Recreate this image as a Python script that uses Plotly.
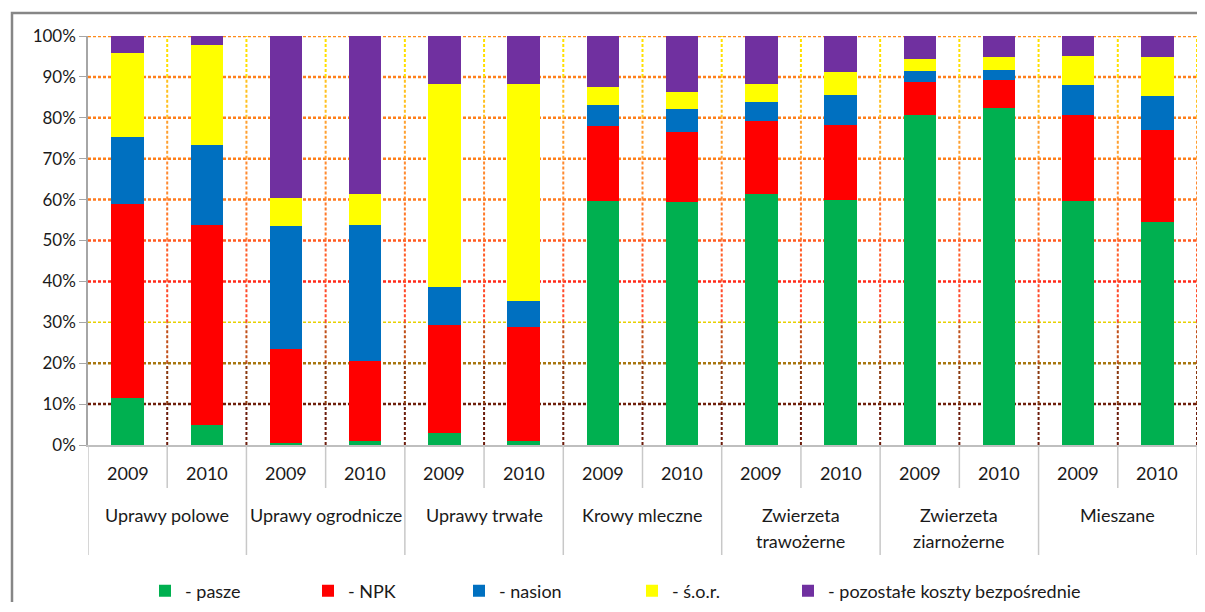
"""Struktura kosztów bezpośrednich - wykres słupkowy 100%."""

import plotly.graph_objects as go

groups = [
    "Uprawy polowe",
    "Uprawy ogrodnicze",
    "Uprawy trwałe",
    "Krowy mleczne",
    "Zwierzeta\ntrawożerne",
    "Zwierzeta\nziarnożerne",
    "Mieszane",
]
years = ["2009", "2010"]

pasze = [11.6, 4.9, 0.4, 1.0, 2.9, 1.0, 59.7, 59.5, 61.4, 60.0, 80.7, 82.5, 59.7, 54.6]
npk = [47.4, 48.9, 23.1, 19.5, 26.4, 27.8, 18.4, 17.1, 17.7, 18.2, 8.1, 6.8, 21.0, 22.5]
nasion = [16.3, 19.5, 30.0, 33.3, 9.3, 6.4, 5.0, 5.6, 4.8, 7.4, 2.6, 2.4, 7.3, 8.2]
sor = [20.5, 24.5, 6.9, 7.6, 49.7, 53.1, 4.4, 4.1, 4.4, 5.6, 3.0, 3.2, 7.1, 9.6]
pozostale = [4.2, 2.2, 39.6, 38.6, 11.7, 11.7, 12.5, 13.7, 11.7, 8.8, 5.6, 5.1, 4.9, 5.1]

series = [
    ("- pasze", pasze, "#00b050"),
    ("- NPK", npk, "#ff0000"),
    ("- nasion", nasion, "#0070c0"),
    ("- ś.o.r.", sor, "#ffff00"),
    ("- pozostałe koszty bezpośrednie", pozostale, "#7030a0"),
]

y_ticks = list(range(0, 101, 10))
y_labels = [f"{v}%" for v in y_ticks]
# dotted gridline colours, 10% .. 100%
hgrid_colors = ["#6e1e0a", "#a8760e", "#e8d000", "#ff2a1a", "#ff5a20",
                "#ff7a1e", "#ff7f1a", "#ff7f1a", "#ff7f1a", "#ff8a1a"]
# vertical gridline gradient, bottom band to top band
vgrid_colors = ["#6b1c0c", "#8a3a10", "#c0501a", "#ff4a2a", "#ff5e2a",
                "#ff7a2a", "#ff8a30", "#ffa030", "#ffc020", "#ffe000"]

FONT = "Lato, 'Open Sans', sans-serif"
TEXT = "#1a1a1a"

# the page body adds 8px around the figure
W, H = 1197, 594
M_L, M_R, M_T = 80, 8, 28
PLOT_H = 409
M_B = H - M_T - PLOT_H

n_bars = len(groups) * len(years)
xs = list(range(n_bars))

# left edge of each legend entry, in figure pixels
legend_x = [137, 300, 451, 624, 780]

fig = go.Figure()
for idx, (name, values, color) in enumerate(series):
    fig.add_trace(
        go.Bar(
            x=xs,
            y=values,
            name=name,
            marker=dict(color=color, line=dict(width=0)),
            legend="legend" if idx == 0 else f"legend{idx + 1}",
        )
    )

shapes = []
# horizontal dotted gridlines
for val, color in zip(y_ticks[1:], hgrid_colors):
    shapes.append(dict(
        type="line", xref="paper", yref="y", x0=0, x1=1, y0=val, y1=val,
        line=dict(color=color, width=1.5 if val == 30 else 2.5, dash="3px,2px"),
        layer="below",
    ))
# vertical dotted gridlines between bars, drawn in colour bands
for i in range(n_bars):
    b = i + 0.5
    for k, color in enumerate(vgrid_colors):
        shapes.append(dict(
            type="line", xref="x", yref="y", x0=b, x1=b,
            y0=y_ticks[k], y1=y_ticks[k + 1],
            line=dict(color=color, width=2, dash="3px,2px"),
            layer="below",
        ))

# category dividers below the axis
short_y = -43 / PLOT_H
long_y = -110 / PLOT_H
for i in range(n_bars + 1):
    b = i - 0.5
    is_group_edge = i % len(years) == 0
    shapes.append(dict(
        type="line", xref="x", yref="paper", x0=b, x1=b,
        y0=0, y1=long_y if is_group_edge else short_y,
        line=dict(color="#c8c8c8", width=1.5),
    ))

# outer chart frame
shapes.append(dict(
    type="rect", xref="paper", yref="paper",
    x0=(4 - M_L) / 1109, x1=1.05, y0=-0.6, y1=1 + (M_T - 5) / PLOT_H,
    line=dict(color="#868686", width=2.5),
))

annotations = []
for i in range(n_bars):
    annotations.append(dict(
        x=i, y=-28 / PLOT_H, xref="x", yref="paper",
        text=years[i % len(years)], showarrow=False,
        yanchor="middle", font=dict(family=FONT, size=18, color=TEXT),
    ))
for g, label in enumerate(groups):
    for line_no, part in enumerate(label.split("\n")):
        annotations.append(dict(
            x=g * len(years) + 0.5, y=-(70 + 26 * line_no) / PLOT_H,
            xref="x", yref="paper", text=part, showarrow=False,
            yanchor="middle", font=dict(family=FONT, size=18, color=TEXT),
        ))

legends = {}
for idx, lx in enumerate(legend_x):
    key = "legend" if idx == 0 else f"legend{idx + 1}"
    legends[key] = dict(
        orientation="h",
        xref="container",
        yref="container",
        x=lx / W,
        xanchor="left",
        y=1 - 583 / H,
        yanchor="middle",
        itemwidth=30,
        font=dict(family=FONT, size=18, color=TEXT),
        bgcolor="rgba(0,0,0,0)",
    )

fig.update_layout(
    barmode="stack",
    bargap=0.59,
    width=W,
    height=H,
    margin=dict(l=M_L, r=M_R, t=M_T, b=M_B, autoexpand=False),
    paper_bgcolor="white",
    plot_bgcolor="white",
    font=dict(family=FONT, size=17, color=TEXT),
    xaxis=dict(
        range=[-0.5, n_bars - 0.5],
        showticklabels=False,
        showgrid=False,
        zeroline=False,
        showline=True,
        linecolor="#bfbfbf",
        linewidth=1.5,
        fixedrange=True,
    ),
    yaxis=dict(
        range=[0, 100],
        tickmode="array",
        tickvals=y_ticks,
        ticktext=y_labels,
        showgrid=False,
        zeroline=False,
        showline=True,
        linecolor="#a6a6a6",
        linewidth=1.5,
        ticks="outside",
        ticklen=7,
        tickcolor="#a6a6a6",
        tickfont=dict(family=FONT, size=17, color=TEXT),
        fixedrange=True,
    ),
    shapes=shapes,
    annotations=annotations,
    showlegend=True,
    **legends,
)

fig.write_html("out.html")
